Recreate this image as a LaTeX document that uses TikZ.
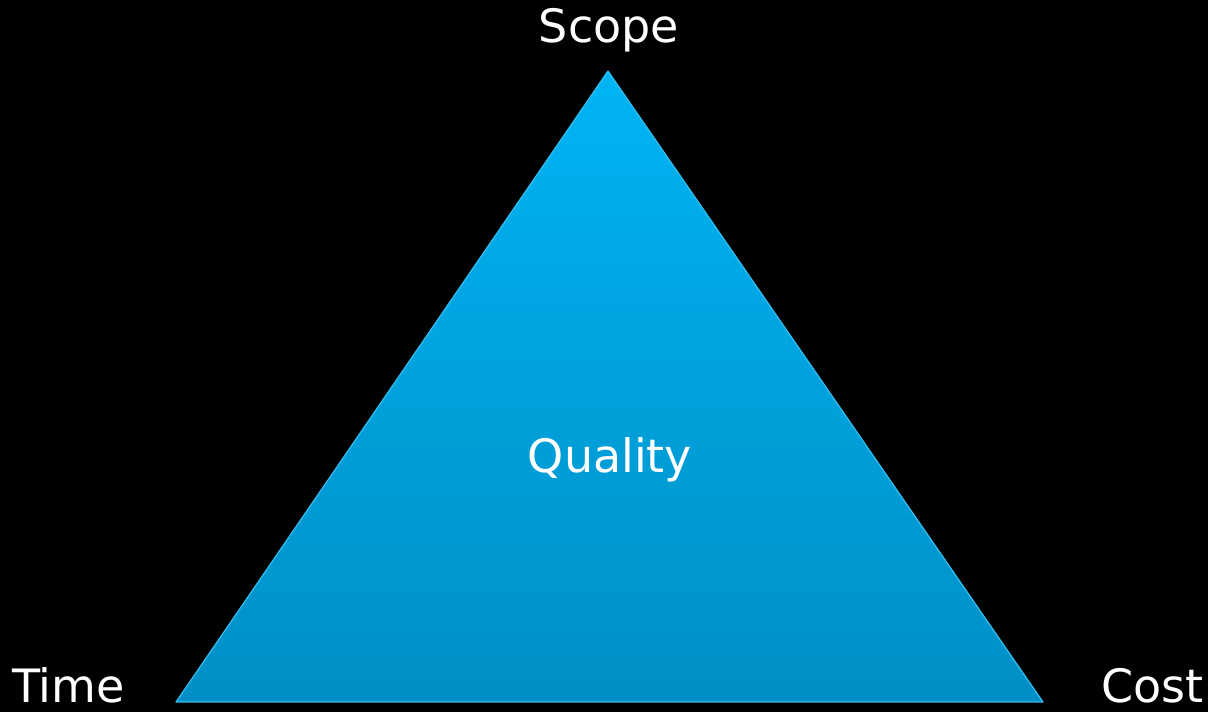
\documentclass[tikz,border=0pt]{standalone}
\usepackage{fontspec}
\setmainfont{DejaVu Sans}
\definecolor{triTop}{HTML}{00B4F4}
\definecolor{triBot}{HTML}{008FC6}
\definecolor{triEdge}{HTML}{35BDEF}
\begin{document}
\begin{tikzpicture}[x=1pt,y=1pt,
  lbl/.style={text=white,font=\fontsize{46}{54}\selectfont,inner sep=0pt}]
\fill[black] (0,0) rectangle (1208,712);
\useasboundingbox (0,0) rectangle (1208,712);
\coordinate (apex) at (608,641);
\coordinate (bl) at (176,10);
\coordinate (br) at (1043,10);
\shade[top color=triTop,bottom color=triBot,draw=triEdge,line width=1.2pt,line join=round]
  (apex) -- (br) -- (bl) -- cycle;
\node[lbl,anchor=base] (scope) at (609,669) {Scope};
\node[lbl,anchor=base west] (time) at (11,9) {\hspace{1pt}Time};
\node[lbl,anchor=base east] (cost) at (1204,9) {Cost};
\node[lbl,anchor=base] (quality) at (610,239) {Quality};
\end{tikzpicture}
\end{document}
